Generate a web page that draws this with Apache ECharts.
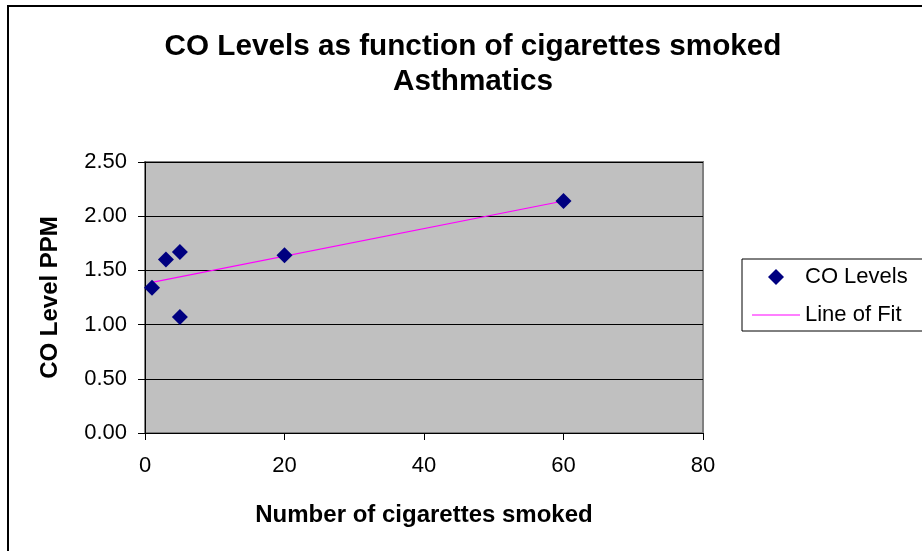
<!DOCTYPE html>
<html>
<head>
<meta charset="utf-8">
<script src="https://cdn.jsdelivr.net/npm/echarts@6/dist/echarts.min.js"></script>
<style>
  html, body { margin: 0; padding: 0; background: #ffffff; }
  #chart { width: 922px; height: 551px; }
</style>
</head>
<body>
<div id="chart"></div>
<script>
// Cigarettes smoked per day vs measured CO level (ppm), asthmatic group
const cigarettes = [1, 3, 5, 5, 20, 60];
const coLevels = [1.34, 1.60, 1.67, 1.07, 1.64, 2.14];

// Endpoints of the least-squares line of fit
const fitX = [1, 60];
const fitY = [1.39, 2.14];

const yTicks = [0, 0.5, 1, 1.5, 2, 2.5];
const xTicks = [0, 20, 40, 60, 80];

const font = 'Liberation Sans, Arial, sans-serif';

const chart = echarts.init(document.getElementById('chart'), null, { renderer: 'canvas' });

chart.setOption({
  backgroundColor: '#ffffff',
  animation: false,
  textStyle: { fontFamily: font },
  title: {
    text: 'CO Levels as function of cigarettes smoked\nAsthmatics',
    left: 468,
    top: 24,
    textAlign: 'center',
    textStyle: {
      fontFamily: font,
      fontSize: 29.7,
      fontWeight: 'bold',
      color: '#000000',
      lineHeight: 35
    }
  },
  graphic: [{
    type: 'rect',
    shape: { x: 8, y: 6, width: 940, height: 570 },
    style: { fill: 'none', stroke: '#000000', lineWidth: 2 },
    silent: true,
    z: -1
  }],
  legend: {
    orient: 'vertical',
    left: 742,
    top: 259,
    padding: [7, 40, 5, 10],
    itemWidth: 48,
    itemHeight: 16,
    itemGap: 16,
    symbolKeepAspect: true,
    borderColor: '#000000',
    borderWidth: 1,
    backgroundColor: '#ffffff',
    textStyle: { fontFamily: font, fontSize: 22, color: '#000000' },
    data: [
      { name: 'CO Levels', icon: 'path://M0,-1L1,0L0,1L-1,0Z' },
      { name: 'Line of Fit', icon: 'path://M0,0H48V1H0Z' }
    ]
  },
  grid: {
    left: 145,
    right: 219,
    top: 162,
    bottom: 118,
    show: true,
    backgroundColor: '#C0C0C0',
    borderColor: '#808080',
    borderWidth: 2
  },
  xAxis: {
    type: 'value',
    min: 0,
    max: 80,
    interval: 20,
    name: 'Number of cigarettes smoked',
    nameLocation: 'middle',
    nameGap: 70,
    nameTextStyle: { fontFamily: font, fontSize: 24, fontWeight: 'bold', color: '#000000' },
    axisLine: { show: true, lineStyle: { color: '#000000', width: 1 } },
    axisTick: { show: true, inside: false, length: 7, lineStyle: { color: '#000000' } },
    axisLabel: {
      fontFamily: font, fontSize: 22, color: '#000000', margin: 22,
      formatter: v => xTicks.includes(v) ? String(v) : ''
    },
    splitLine: { show: false }
  },
  yAxis: {
    type: 'value',
    min: 0,
    max: 2.5,
    interval: 0.5,
    name: 'CO Level PPM',
    nameLocation: 'middle',
    nameGap: 83,
    nameRotate: 90,
    nameTextStyle: { fontFamily: font, fontSize: 24, fontWeight: 'bold', color: '#000000' },
    axisLine: { show: true, lineStyle: { color: '#000000', width: 1 } },
    axisTick: { show: true, inside: false, length: 7, lineStyle: { color: '#000000' } },
    axisLabel: {
      fontFamily: font, fontSize: 22, color: '#000000', margin: 18,
      formatter: v => yTicks.some(t => Math.abs(t - v) < 1e-9) ? v.toFixed(2) : ''
    },
    splitLine: { show: true, lineStyle: { color: '#000000', width: 1 } }
  },
  series: [
    {
      name: 'Line of Fit',
      type: 'line',
      data: fitX.map((x, i) => [x, fitY[i]]),
      symbol: 'none',
      lineStyle: { color: '#FF00FF', width: 1.2 },
      itemStyle: { color: '#FF00FF' },
      z: 2
    },
    {
      name: 'CO Levels',
      type: 'scatter',
      data: cigarettes.map((x, i) => [x, coLevels[i]]),
      symbol: 'diamond',
      symbolSize: 16,
      itemStyle: { color: '#000080', opacity: 1 },
      z: 3
    }
  ]
});
</script>
</body>
</html>
